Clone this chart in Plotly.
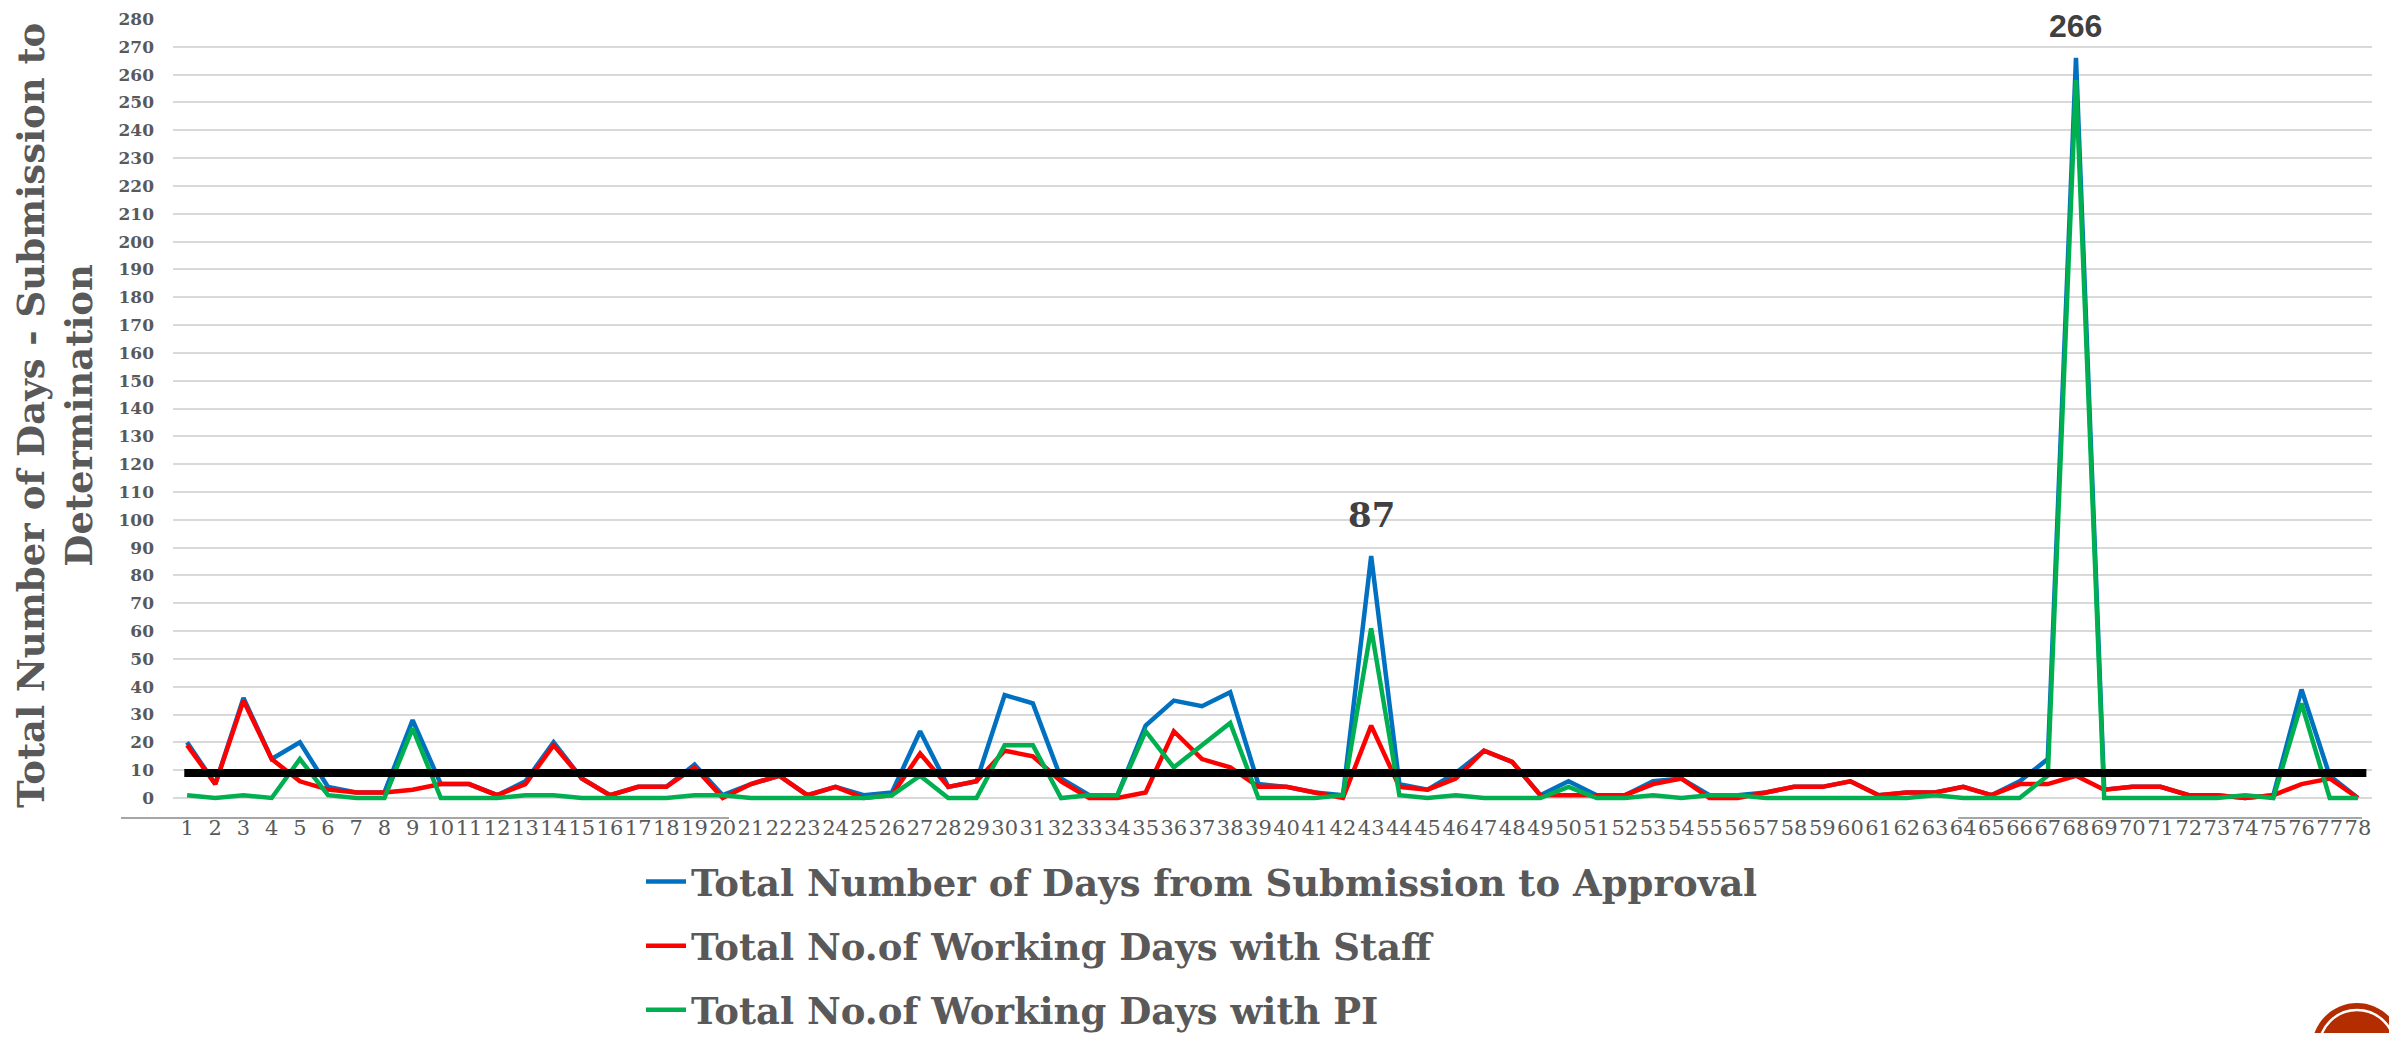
import plotly.graph_objects as go

# ---------------- data ----------------
categories = list(range(1, 79))

total_days = [20, 5, 36, 14, 20, 4, 2, 2, 28, 5, 5, 1, 6, 20, 7, 1, 4, 4, 12, 1,
              5, 8, 1, 4, 1, 2, 24, 4, 6, 37, 34, 7, 1, 1, 26, 35, 33, 38, 5, 4,
              2, 1, 87, 5, 3, 9, 17, 13, 1, 6, 1, 1, 6, 7, 1, 1, 2, 4, 4, 6,
              1, 2, 2, 4, 1, 6, 14, 266, 3, 4, 4, 1, 1, 0, 1, 39, 8, 0]

staff_days = [19, 5, 35, 14, 6, 3, 2, 2, 3, 5, 5, 1, 5, 19, 7, 1, 4, 4, 11, 0,
              5, 8, 1, 4, 0, 1, 16, 4, 6, 17, 15, 6, 0, 0, 2, 24, 14, 11, 4, 4,
              2, 0, 26, 4, 3, 7, 17, 13, 1, 1, 1, 1, 5, 7, 0, 0, 2, 4, 4, 6,
              1, 2, 2, 4, 1, 5, 5, 8, 3, 4, 4, 1, 1, 0, 1, 5, 7, 0]

pi_days = [1, 0, 1, 0, 14, 1, 0, 0, 25, 0, 0, 0, 1, 1, 0, 0, 0, 0, 1, 1,
           0, 0, 0, 0, 0, 1, 8, 0, 0, 19, 19, 0, 1, 1, 24, 11, 19, 27, 0, 0,
           0, 1, 61, 1, 0, 1, 0, 0, 0, 4, 0, 0, 1, 0, 1, 1, 0, 0, 0, 0,
           0, 0, 1, 0, 0, 0, 8, 258, 0, 0, 0, 0, 0, 1, 0, 34, 0, 0]

threshold = 9

series_names = ["Total Number of Days from Submission to Approval",
                "Total No.of Working Days with Staff",
                "Total No.of Working Days with PI"]
series_colors = ["#0070C0", "#FF0000", "#00B050"]

y_ticks = list(range(0, 281, 10))
y_title = "Total Number of Days - Submission to<br>Determination"
peak_labels = [(43, 87), (68, 266)]

# ---------------- figure ----------------
W, H = 2381, 1025
ML, MR, MT, MB = 165, 17, 11, 215
plot_w = W - ML - MR
plot_h = H - MT - MB

fig = go.Figure()
for name, vals, col in zip(series_names, [total_days, staff_days, pi_days], series_colors):
    fig.add_trace(go.Scatter(
        x=categories, y=vals, mode="lines", name=name,
        legendgroup=name,
        line=dict(color=col, width=4.5),
    ))

# threshold line
fig.add_trace(go.Scatter(
    x=[categories[0] - 0.1, categories[-1] + 0.3], y=[threshold, threshold],
    mode="lines", showlegend=False, line=dict(color="#000000", width=8),
    hoverinfo="skip",
))

serif = "DejaVu Serif"
grey = "#595959"

# peak labels
for xv, yv in peak_labels:
    fam = serif if yv < 100 else "Liberation Sans"
    shift = 41 if yv < 100 else 32
    size = 34 if yv < 100 else 32
    fig.add_annotation(x=xv, y=yv, xref="x", yref="y", text=str(yv),
                       showarrow=False, yshift=shift, yanchor="middle",
                       font=dict(family=fam, size=size, color="#404040", weight="bold"))

def px_x(p): return (p - ML) / plot_w
def px_y(p): return (plot_h + MT - p) / plot_h

# y title as annotation
fig.add_annotation(x=px_x(47), y=px_y(408),
                   xref="paper", yref="paper", text=y_title, textangle=-90,
                   showarrow=False, xanchor="center", yanchor="middle",
                   font=dict(family=serif, size=37, color=grey, weight="bold"))

# x axis line segments
for a, b in [(113, 721), (1950, 2354)]:
    fig.add_shape(type="line", xref="paper", yref="paper",
                  x0=px_x(a), x1=px_x(b), y0=0, y1=0,
                  line=dict(color="#A6A6A6", width=2))

# logo circle bottom right
cx, cy, r = 2349, 1040, 45
fig.add_shape(type="circle", xref="paper", yref="paper",
              x0=px_x(cx - r), x1=px_x(cx + r), y0=px_y(cy + r), y1=px_y(cy - r),
              fillcolor="#B32D00", line=dict(width=0))
r2 = 38
fig.add_shape(type="circle", xref="paper", yref="paper",
              x0=px_x(cx - r2), x1=px_x(cx + r2), y0=px_y(cy + r2), y1=px_y(cy - r2),
              line=dict(color="#FFFFFF", width=2.5))

fig.update_layout(
    width=W, height=H,
    margin=dict(l=ML, r=MR, t=MT, b=MB, pad=0, autoexpand=False),
    plot_bgcolor="white", paper_bgcolor="white",
    showlegend=True,
    legend=dict(
        xref="container", yref="container",
        x=633 / W, y=1 - 843 / H, xanchor="left", yanchor="top",
        orientation="v", traceorder="grouped", tracegroupgap=13,
        font=dict(family=serif, size=37, color=grey, weight="bold"),
        bgcolor="rgba(0,0,0,0)", itemwidth=40,
    ),
    xaxis=dict(
        range=[0.5, 78.5], tickmode="array", tickvals=categories,
        ticktext=[str(c) for c in categories], showgrid=False, zeroline=False,
        showline=False, ticks="", tickangle=0, automargin=False,
        ticklabelstandoff=-5,
        tickfont=dict(family=serif, size=21, color=grey),
    ),
    yaxis=dict(
        range=[-7.19, 280], tickmode="array", tickvals=y_ticks,
        showgrid=True, gridcolor="#D9D9D9", gridwidth=1.5, zeroline=False,
        showline=False, ticks="", ticklabelstandoff=18, automargin=False,
        tickfont=dict(family=serif, size=17, color=grey, weight="bold"),
    ),
)

fig.write_html("out.html")
